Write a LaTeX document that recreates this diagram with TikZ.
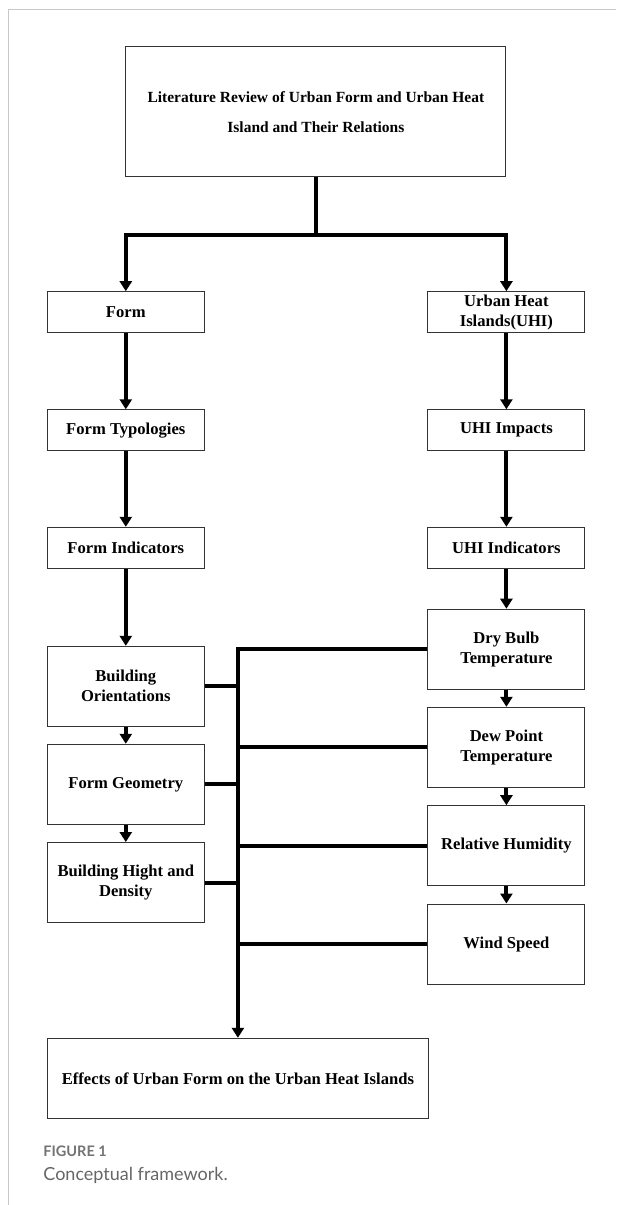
\documentclass[tikz,border=0pt]{standalone}
\usepackage{fontspec}
\setmainfont{Liberation Serif}
\newfontfamily\capfont{Lato}
\usetikzlibrary{arrows.meta}
\begin{document}
\begin{tikzpicture}[x=1pt,y=-1pt,
  box/.style={draw=black!80, line width=1pt, fill=white, align=center,
    font=\fontsize{16.6}{20}\selectfont\bfseries, inner sep=0pt, minimum width=157pt},
  sbox/.style={box, minimum height=41pt},
  tbox/.style={box, minimum height=80pt},
  conn/.style={line width=4pt, black},
  arr/.style={conn, -{Triangle[length=10pt,width=12pt]}},
  frame/.style={draw=black!22, line width=1.5pt},
  capsmall/.style={anchor=base west, inner sep=0pt, text=black!55, font=\capfont\bfseries\fontsize{14.5}{16}\selectfont},
  capbig/.style={anchor=base west, inner sep=0pt, text=black!60, font=\capfont\fontsize{18}{20}\selectfont}
]
\useasboundingbox (0,0) rectangle (616,1205);
\draw[frame] (8.6,1205) -- (8.6,9.5) -- (616,9.5);

\node[box, minimum width=380pt, minimum height=130pt, font=\fontsize{15.5}{30}\selectfont\bfseries] (top) at (315.9,111.7)
  {Literature Review of Urban Form and Urban Heat\\Island and Their Relations};

\node[sbox] (form) at (125.8,312.2) {Form};
\node[sbox] (typ) at (125.8,430.3) {Form Typologies};
\node[sbox] (find) at (125.8,547.8) {Form Indicators};
\node[tbox] (bo) at (125.8,686.3) {Building\\Orientations};
\node[tbox] (fg) at (125.8,784.3) {Form Geometry};
\node[tbox] (bh) at (125.8,882.5) {Building Hight and\\Density};

\node[sbox] (uhi) at (506.4,312.2) {Urban Heat\\Islands(UHI)};
\node[sbox] (imp) at (506.4,430.3) {UHI Impacts};
\node[sbox] (uind) at (506.4,547.8) {UHI Indicators};
\node[tbox] (db) at (506.4,649.2) {Dry Bulb\\Temperature};
\node[tbox] (dp) at (506.4,747.3) {Dew Point\\Temperature};
\node[tbox] (rh) at (506.4,845.7) {Relative Humidity};
\node[tbox] (ws) at (506.4,944) {Wind Speed};

\node[box, minimum width=381pt, minimum height=80pt] (eff) at (237.9,1078.3)
  {Effects of Urban Form on the Urban Heat Islands};

\coordinate (j) at (315.9,235);
\draw[conn] (top.south) -- (j);
\draw[arr] (j) -| (form.north);
\draw[arr] (j) -| (uhi.north);

\draw[arr] (form) -- (typ);
\draw[arr] (typ) -- (find);
\draw[arr] (find) -- (bo);
\draw[arr] (bo) -- (fg);
\draw[arr] (fg) -- (bh);

\draw[arr] (uhi) -- (imp);
\draw[arr] (imp) -- (uind);
\draw[arr] (uind) -- (db);
\draw[arr] (db) -- (dp);
\draw[arr] (dp) -- (rh);
\draw[arr] (rh) -- (ws);

\draw[arr] (db.west) -| (eff.north);
\draw[conn] (dp.west) -- (dp.west -| eff.north);
\draw[conn] (rh.west) -- (rh.west -| eff.north);
\draw[conn] (ws.west) -- (ws.west -| eff.north);
\draw[conn] (bo.east) -- (bo.east -| eff.north);
\draw[conn] (fg.east) -- (fg.east -| eff.north);
\draw[conn] (bh.east) -- (bh.east -| eff.north);

\node[capsmall] (cap1) at (43.2,1156.7) {FIGURE 1};
\node[capbig] (cap2) at (43.2,1180) {Conceptual framework.};
\end{tikzpicture}
\end{document}
